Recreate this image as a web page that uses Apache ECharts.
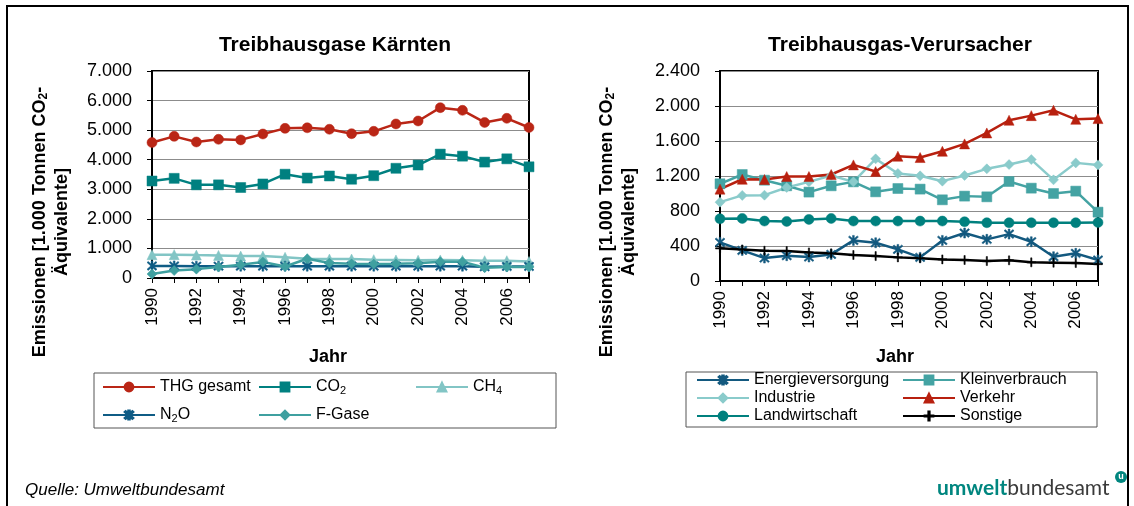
<!DOCTYPE html>
<html><head><meta charset="utf-8">
<script src="https://cdn.jsdelivr.net/npm/echarts@6/dist/echarts.min.js"></script>
<style>html,body{margin:0;padding:0;background:#fff}#c{width:1134px;height:506px}</style>
</head><body><div id="c"></div>
<script>
// ---------- data ----------
const years = ['1990','1991','1992','1993','1994','1995','1996','1997','1998','1999','2000','2001','2002','2003','2004','2005','2006','2007'];

// Left chart: Treibhausgase Kärnten (1.000 t CO2-Äquivalente)
const thgGesamt = [4580,4790,4600,4690,4670,4870,5060,5080,5030,4880,4960,5210,5310,5760,5670,5260,5400,5090];
const co2       = [3280,3370,3150,3150,3060,3180,3510,3380,3450,3340,3460,3710,3820,4190,4120,3920,4030,3760];
const ch4       = [790,790,775,765,740,740,700,650,640,640,620,610,600,610,600,585,585,560];
const n2o       = [410,410,400,400,400,400,400,400,400,400,400,400,400,400,400,380,390,390];
const fGase     = [135,250,300,370,450,540,390,650,505,480,470,480,495,550,550,350,370,370];
const leftTicks = [0,1000,2000,3000,4000,5000,6000,7000];

// Right chart: Treibhausgas-Verursacher
const energieversorgung = [441,350,262,289,274,304,464,437,361,270,464,548,476,536,449,278,316,240];
const kleinverbrauch    = [1111,1217,1152,1088,1016,1088,1133,1019,1057,1050,928,970,962,1137,1061,1000,1027,787];
const industrie         = [901,978,981,1069,1133,1206,1133,1396,1229,1202,1141,1206,1282,1331,1388,1156,1350,1327];
const verkehr           = [1050,1163,1160,1194,1194,1217,1327,1251,1426,1411,1483,1567,1692,1837,1890,1951,1848,1856];
const landwirtschaft    = [711,715,685,681,704,715,685,685,685,685,685,677,666,666,666,666,666,669];
const sonstige          = [373,361,346,342,327,316,297,285,270,259,247,240,228,236,213,209,205,194];
const rightTicks = [0,400,800,1200,1600,2000,2400];

// ---------- styling ----------
const FONT = '"Liberation Sans", Arial, sans-serif';
const ASTERISK = 'path://M4.2,0H5.8V10H4.2Z M0.5,1.6L1.6,0.5L9.5,8.4L8.4,9.5Z M8.4,0.5L9.5,1.6L1.6,9.5L0.5,8.4Z';
const PLUS = 'path://M4.3,0H5.7V10H4.3Z M0,4.3H10V5.7H0Z';

const fmt = v => String(v).replace(/\B(?=(\d{3})+(?!\d))/g, '.');

function mkSeries(name, data, color, symbol, size, idx) {
  return {
    name, type: 'line', data, xAxisIndex: idx, yAxisIndex: idx,
    symbol, symbolSize: size, showSymbol: true,
    lineStyle: { color, width: 2.5 },
    itemStyle: { color, borderColor: color, borderWidth: 0.5 },
    emphasis: { disabled: true }, animation: false
  };
}

function mkX(idx) {
  return {
    type: 'category', gridIndex: idx, data: years, boundaryGap: false,
    axisLine: { lineStyle: { color: '#000', width: 2 } },
    axisTick: { show: true, interval: 0, length: 5, lineStyle: { color: '#000', width: 1 } },
    axisLabel: { interval: 1, rotate: 90, fontSize: 17, color: '#000', fontFamily: FONT, margin: 10 },
    splitLine: { show: false }
  };
}
function mkY(idx, max, interval) {
  return {
    type: 'value', gridIndex: idx, min: 0, max, interval,
    axisLine: { show: true, lineStyle: { color: '#000', width: 2 } },
    axisTick: { show: true, length: 5, lineStyle: { color: '#000' } },
    axisLabel: { fontSize: 18, color: '#000', fontFamily: FONT, margin: 20, formatter: fmt },
    splitLine: { show: true, lineStyle: { color: '#8c8c8c', width: 1.2 } }
  };
}

const legendText = {
  fontSize: 16, color: '#000', fontFamily: FONT,
  rich: {
    n: { fontSize: 16, fontFamily: FONT, color: '#000' },
    s: { fontSize: 11, fontFamily: FONT, color: '#000', padding: [7, 0, 0, 0] }
  }
};
const legendFmt = name => {
  const m = { 'CO2': '{n|CO}{s|2}', 'CH4': '{n|CH}{s|4}', 'N2O': '{n|N}{s|2}{n|O}' };
  return m[name] || ('{n|' + name + '}');
};
function mkLegend(name, left, cy) {
  return {
    data: [name], left, top: cy - 9, padding: 0, itemWidth: 52, itemHeight: 11,
    textStyle: legendText, formatter: legendFmt, selectedMode: false
  };
}

const axisTitleRich = {
  b: { fontSize: 18, fontWeight: 'bold', fontFamily: FONT, fill: '#000', lineHeight: 22 },
  s: { fontSize: 12, fontWeight: 'bold', fontFamily: FONT, fill: '#000', padding: [8, 0, 0, 0], lineHeight: 22 }
};
function axisTitle(x, y) {
  return {
    type: 'text', x, y, rotation: Math.PI / 2,
    style: {
      text: '{b|Emissionen [1.000 Tonnen CO}{s|2}{b|-}\n{b|Äquivalente]}',
      rich: axisTitleRich, align: 'center', verticalAlign: 'middle', fill: '#000'
    }
  };
}

const option = {
  backgroundColor: '#fff',
  animation: false,
  title: [
    { text: 'Treibhausgase Kärnten', left: 330, top: 30, textAlign: 'center',
      textStyle: { fontSize: 21, fontWeight: 'bold', color: '#000', fontFamily: FONT } },
    { text: 'Treibhausgas-Verursacher', left: 895, top: 30, textAlign: 'center',
      textStyle: { fontSize: 21, fontWeight: 'bold', color: '#000', fontFamily: FONT } }
  ],
  grid: [
    { left: 152, top: 71, width: 377, height: 207, show: true, borderColor: '#000', borderWidth: 2, backgroundColor: '#fff' },
    { left: 720, top: 71, width: 378, height: 210, show: true, borderColor: '#000', borderWidth: 2, backgroundColor: '#fff' }
  ],
  xAxis: [mkX(0), mkX(1)],
  yAxis: [mkY(0, 7000, 1000), mkY(1, 2400, 400)],
  legend: [
    mkLegend('THG gesamt', 102, 388),
    mkLegend('CO2', 258, 388),
    mkLegend('CH4', 415, 388),
    mkLegend('N2O', 102, 416),
    mkLegend('F-Gase', 258, 416),
    mkLegend('Energieversorgung', 696, 381),
    mkLegend('Kleinverbrauch', 902, 381),
    mkLegend('Industrie', 696, 399),
    mkLegend('Verkehr', 902, 399),
    mkLegend('Landwirtschaft', 696, 417),
    mkLegend('Sonstige', 902, 417)
  ],
  series: [
    mkSeries('THG gesamt', thgGesamt, '#BA2616', 'circle', 10, 0),
    mkSeries('CO2', co2, '#008080', 'rect', 10, 0),
    mkSeries('CH4', ch4, '#82C5C5', 'triangle', 10, 0),
    mkSeries('N2O', n2o, '#0F5C85', ASTERISK, 10, 0),
    mkSeries('F-Gase', fGase, '#3FA0A0', 'diamond', 10, 0),
    mkSeries('Energieversorgung', energieversorgung, '#13597F', ASTERISK, 10, 1),
    mkSeries('Kleinverbrauch', kleinverbrauch, '#44A3A3', 'rect', 10, 1),
    mkSeries('Industrie', industrie, '#8ACBCB', 'diamond', 10, 1),
    mkSeries('Verkehr', verkehr, '#B8200F', 'triangle', 10, 1),
    mkSeries('Landwirtschaft', landwirtschaft, '#00807E', 'circle', 10, 1),
    mkSeries('Sonstige', sonstige, '#000000', PLUS, 9, 1)
  ],
  graphic: [
    // outer frame
    { type: 'polyline', shape: { points: [[7, 520], [7, 6], [1128, 6], [1128, 520]] },
      style: { stroke: '#000', lineWidth: 2, fill: null }, silent: true },
    axisTitle(51, 222),
    axisTitle(618, 222),
    { type: 'text', x: 328, y: 357, style: { text: 'Jahr', font: 'bold 18px ' + FONT, fill: '#000', align: 'center', verticalAlign: 'middle' } },
    { type: 'text', x: 895, y: 357, style: { text: 'Jahr', font: 'bold 18px ' + FONT, fill: '#000', align: 'center', verticalAlign: 'middle' } },
    // legend boxes
    { type: 'rect', shape: { x: 94, y: 373, width: 462, height: 55 }, style: { fill: null, stroke: '#555', lineWidth: 1 }, z: -1 },
    { type: 'rect', shape: { x: 686, y: 372, width: 411, height: 55 }, style: { fill: null, stroke: '#555', lineWidth: 1 }, z: -1 },
    // source
    { type: 'text', x: 25, y: 490, style: { text: 'Quelle: Umweltbundesamt', font: 'italic 17px ' + FONT, fill: '#000', verticalAlign: 'middle' } },
    // logo
    { type: 'text', x: 937, y: 488, style: {
        text: '{a|umwelt}{b|bundesamt}', verticalAlign: 'middle',
        rich: {
          a: { fontSize: 21, fontWeight: 'bold', fontFamily: 'Lato, "Open Sans", sans-serif', fill: '#00867F' },
          b: { fontSize: 21, fontFamily: 'Lato, "Open Sans", sans-serif', fill: '#3a3a3a' }
        } } },
    { type: 'circle', shape: { cx: 1121, cy: 477, r: 6 }, style: { fill: '#00867F' } },
    { type: 'text', x: 1121, y: 477, style: { text: 'u', font: 'bold 9px ' + FONT, fill: '#fff', align: 'center', verticalAlign: 'middle' }, z: 10 }
  ]
};

const chart = echarts.init(document.getElementById('c'), null, { renderer: 'canvas' });
chart.setOption(option);
</script>
</body></html>
